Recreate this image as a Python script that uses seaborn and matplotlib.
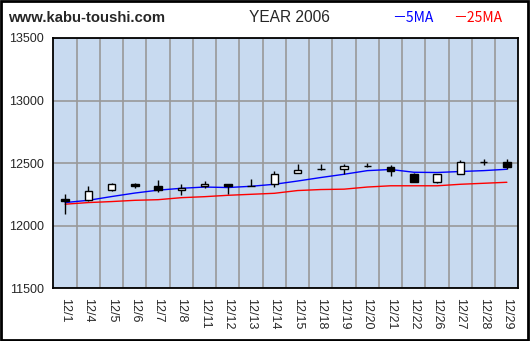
import matplotlib
matplotlib.use("Agg")
import matplotlib.pyplot as plt
from matplotlib.patches import Rectangle
from matplotlib.ticker import FixedLocator
import numpy as np
import pandas as pd
import seaborn as sns

# Daily prices, December 2006
dates = ["12/1", "12/4", "12/5", "12/6", "12/7", "12/8", "12/11", "12/12", "12/13", "12/14",
         "12/15", "12/18", "12/19", "12/20", "12/21", "12/22", "12/26", "12/27", "12/28", "12/29"]
opens = [12218, 12204, 12290, 12334, 12316, 12287, 12316, 12334, 12320, 12332,
         12422, 12450, 12450, 12480, 12468, 12417, 12350, 12417, 12510, 12506]
highs = [12252, 12316, 12340, 12342, 12364, 12338, 12358, 12338, 12372, 12436,
         12492, 12492, 12492, 12500, 12484, 12420, 12414, 12524, 12530, 12530]
lows = [12098, 12200, 12282, 12306, 12270, 12250, 12306, 12258, 12318, 12310,
        12422, 12445, 12412, 12466, 12402, 12350, 12342, 12412, 12484, 12455]
closes = [12200, 12282, 12332, 12322, 12290, 12306, 12332, 12322, 12320, 12417,
          12449, 12450, 12476, 12480, 12436, 12350, 12412, 12513, 12510, 12470]
ma5 = [12186, 12204, 12234, 12262, 12285, 12300, 12310, 12306, 12316, 12332,
       12358, 12386, 12412, 12441, 12450, 12428, 12426, 12434, 12441, 12452]
ma25 = [12173, 12186, 12194, 12204, 12209, 12225, 12233, 12244, 12252, 12260,
        12282, 12290, 12293, 12310, 12320, 12320, 12320, 12332, 12340, 12348]

y_ticks = [11500, 12000, 12500, 13000, 13500]

sns.set_style("white")
plt.rcParams["font.family"] = ["Liberation Sans", "DejaVu Sans"]

fig = plt.figure(figsize=(5.30, 3.41), dpi=100, facecolor="white")
ax = fig.add_axes([0.1009, 0.154, 0.8774, 0.7346])
ax.set_facecolor("#C8DAF0")

x = np.arange(len(dates))
df = pd.DataFrame({"x": x, "ma5": ma5, "ma25": ma25})

# grid: horizontal at price levels, vertical between trading days
ax.set_xlim(-0.5, len(dates) - 0.5)
ax.set_ylim(11500, 13500)
ax.xaxis.set_major_locator(FixedLocator(x))
ax.xaxis.set_minor_locator(FixedLocator(x[:-1] + 0.5))
ax.set_yticks(y_ticks)
ax.grid(False)
ax.grid(True, which="minor", axis="x", color="#999999", lw=1.2, zorder=0)
ax.grid(True, which="major", axis="y", color="#999999", lw=1.2, zorder=0)
ax.set_axisbelow(True)

# moving averages
sns.lineplot(data=df, x="x", y="ma25", ax=ax, color="#FF0000", lw=1.0, zorder=2)
sns.lineplot(data=df, x="x", y="ma5", ax=ax, color="#0000FF", lw=1.0, zorder=2)

# candlesticks
ax.vlines(x, lows, highs, color="black", lw=1.0, zorder=3)
for xi, o, c in zip(x, opens, closes):
    up = c >= o
    ax.bar(xi, abs(c - o), bottom=min(o, c), width=0.32,
           color="white" if up else "black", edgecolor="black", lw=1.0, zorder=4)

ax.set_xlabel("")
ax.set_ylabel("")
ax.set_xticklabels(dates, rotation=-90, fontsize=9)
ax.set_yticklabels([str(v) for v in y_ticks], fontsize=9)
ax.tick_params(axis="x", which="major", length=0, pad=7)
ax.tick_params(axis="x", which="minor", direction="in", length=4, color="black", width=1)
ax.tick_params(axis="y", which="major", direction="in", length=4, color="black", width=1, pad=7)
for s in ax.spines.values():
    s.set_visible(True)
    s.set_color("black")
    s.set_linewidth(1.3)

# header texts
fig.text(8 / 530, 1 - 18 / 341, "www.kabu-toushi.com", fontsize=10.7, fontweight="bold",
         ha="left", va="center")
fig.text(289 / 530, 1 - 18 / 341, "YEAR 2006", fontsize=11.2, ha="center", va="center")
fig.text(392 / 530, 1 - 18 / 341, "－5MA", fontsize=10, color="#0000FF", ha="left", va="center",
         family=["Noto Sans CJK JP", "DejaVu Sans"])
fig.text(453 / 530, 1 - 18 / 341, "－25MA", fontsize=10, color="#FF0000", ha="left", va="center",
         family=["Noto Sans CJK JP", "DejaVu Sans"])

# outer frame
fig.patches.append(Rectangle((0.002, 0.003), 0.995, 0.994, transform=fig.transFigure,
                             fill=False, edgecolor="black", lw=2.0))

fig.savefig("out.png", dpi=100, facecolor="white")
